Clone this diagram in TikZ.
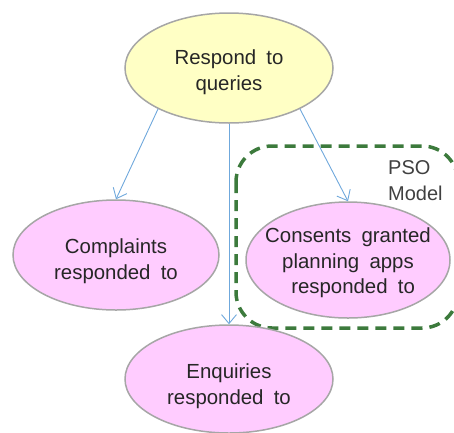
\documentclass[tikz,border=0pt]{standalone}
\usepackage{fontspec}
\setmainfont[WordSpace=1.8]{Liberation Sans}
\usetikzlibrary{shapes.geometric,arrows.meta}
\definecolor{goalfill}{HTML}{FFFFC5}
\definecolor{outfill}{HTML}{FFCCFF}
\definecolor{rimgray}{HTML}{A6A6A6}
\definecolor{linkblue}{HTML}{6FA8DC}
\definecolor{psogreen}{HTML}{3C7A3C}
\definecolor{inkgray}{HTML}{262626}
\definecolor{notegray}{HTML}{404040}
\begin{document}
\begin{tikzpicture}[x=1pt,y=-1pt,
  oval/.style={ellipse, draw=rimgray, line width=1.5pt, inner sep=0pt},
  goal/.style={oval, fill=goalfill},
  outcome/.style={oval, fill=outfill},
  caption/.style={align=center, text=inkgray, inner sep=0pt,
    font=\fontsize{20.4}{25.5}\selectfont},
  link/.style={draw=linkblue, line width=0.9pt,
    -{Straight Barb[length=9pt,width=15pt,line width=0.9pt]}},
  psobox/.style={draw=psogreen, line width=3.5pt, dash pattern=on 11pt off 7pt,
    rounded corners=36pt},
  note/.style={text=notegray, font=\fontsize{20}{25}\selectfont, inner sep=0pt}
]
\useasboundingbox (0,0) rectangle (454,432);

% PSO model grouping
\draw[psobox] (236,146) rectangle (458,328);

% goal and outcome ellipses
\node[goal, minimum width=208pt, minimum height=110pt] (respond) at (229,68) {};
\node[outcome, minimum width=206pt, minimum height=110pt] (complaints) at (116,255) {};
\node[outcome, minimum width=204pt, minimum height=116pt] (consents) at (348,260) {};
\node[outcome, minimum width=208pt, minimum height=108pt] (enquiries) at (229,379) {};

% their texts
\node[caption] (respond-t) at ([yshift=-4pt]respond.center) {Respond to\\queries};
\node[caption] (complaints-t) at ([yshift=-6pt]complaints.center) {Complaints\\responded to};
\node[caption] (consents-t) at ([yshift=-3pt]consents.center) {Consents granted\\planning apps\\\ responded to};
\node[caption] (enquiries-t) at ([yshift=-7pt]enquiries.center) {Enquiries\\responded to};

\node[note, anchor=base west] (pso) at (388,174) {PSO};
\node[note, anchor=base west] (model) at (388,200) {Model};

% links
\draw[link] (respond.210) -- (complaints.north);
\draw[link] (respond.south) -- (enquiries.north);
\draw[link] (respond.330) -- (consents.north);
\end{tikzpicture}
\end{document}
